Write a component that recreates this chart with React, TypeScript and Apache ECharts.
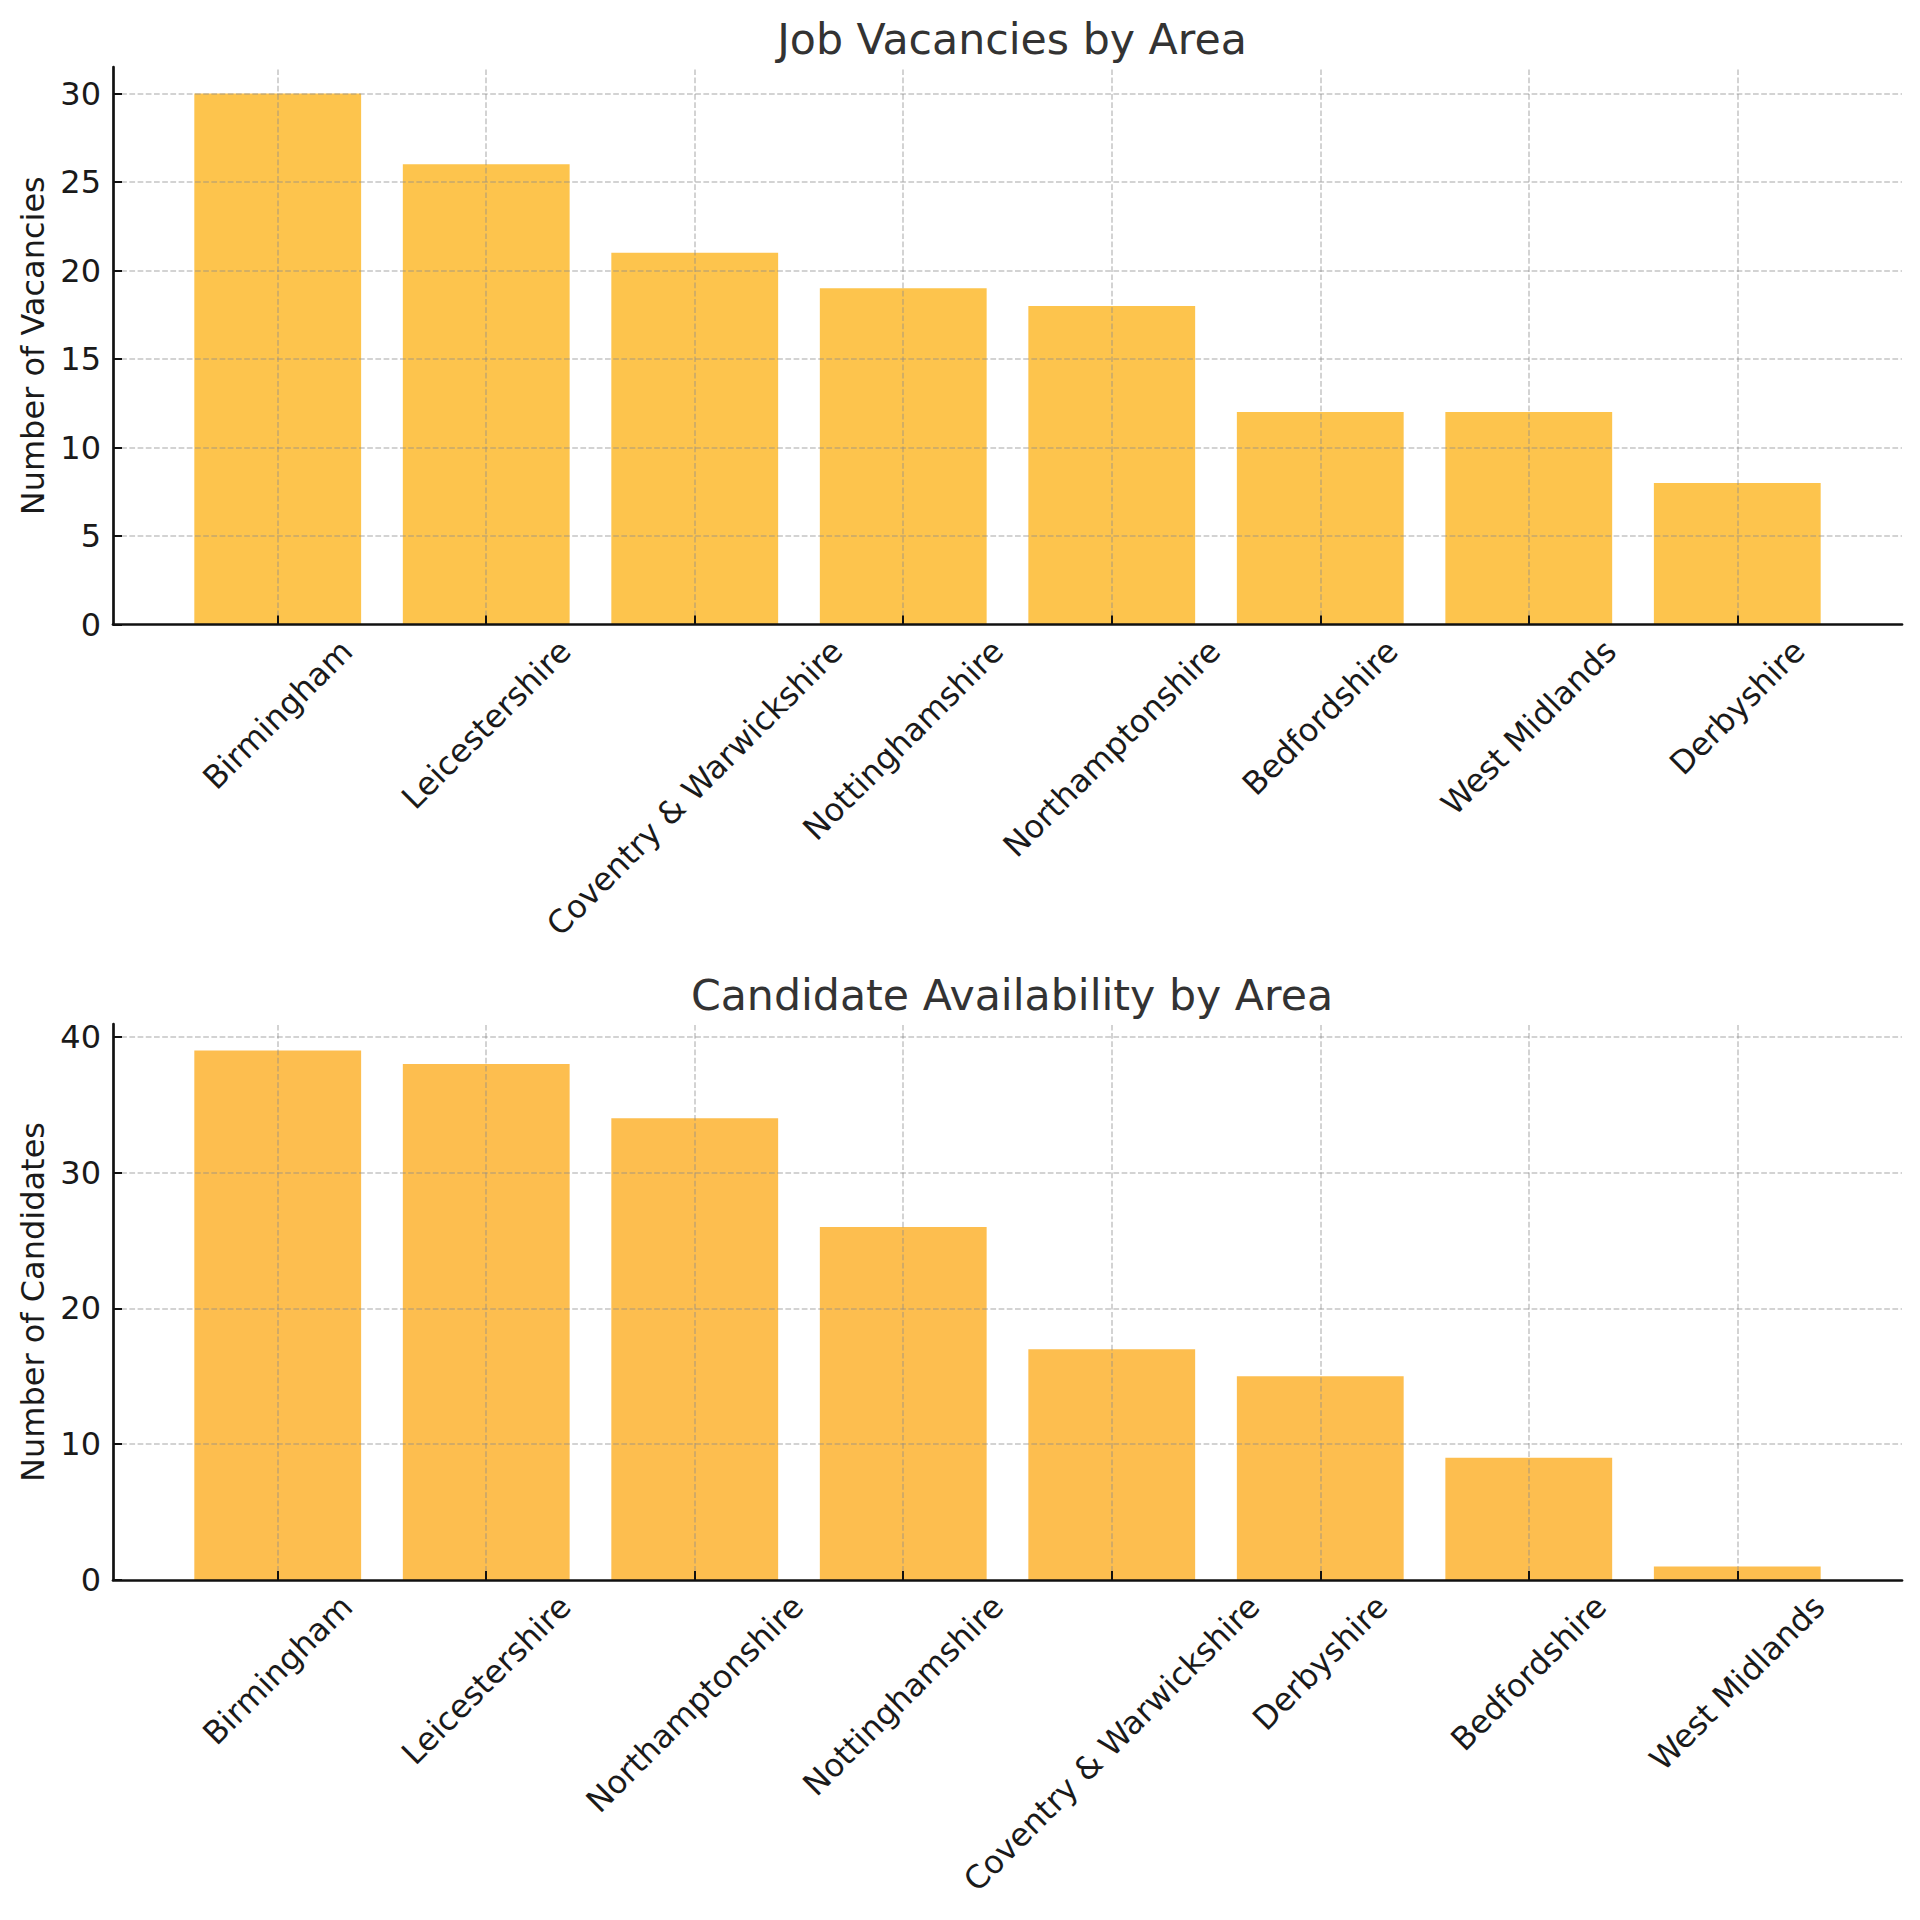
import React, { useEffect, useRef } from "react";
import * as echarts from "echarts";

const topTitle = "Job Vacancies by Area";
const bottomTitle = "Candidate Availability by Area";
const topYName = "Number of Vacancies";
const bottomYName = "Number of Candidates";

const topCategories = [
  "Birmingham",
  "Leicestershire",
  "Coventry & Warwickshire",
  "Nottinghamshire",
  "Northamptonshire",
  "Bedfordshire",
  "West Midlands",
  "Derbyshire",
];
const topValues = [30, 26, 21, 19, 18, 12, 12, 8];

const bottomCategories = [
  "Birmingham",
  "Leicestershire",
  "Northamptonshire",
  "Nottinghamshire",
  "Coventry & Warwickshire",
  "Derbyshire",
  "Bedfordshire",
  "West Midlands",
];
const bottomValues = [39, 38, 34, 26, 17, 15, 9, 1];

const topYTicks = [0, 5, 10, 15, 20, 25, 30];
const bottomYTicks = [0, 10, 20, 30, 40];

const FONT = '"DejaVu Sans", "Noto Sans", sans-serif';
const TICK_FS = 32;
const LINE_H = 37;

// plot geometry (px)
const PLOT_LEFT = 113;
const PLOT_WIDTH = 1789;
const X_MIN = -0.79;
const X_MAX = 7.79;
const UNIT = PLOT_WIDTH / (X_MAX - X_MIN);

function measure(s: string): number {
  const c = document.createElement("canvas");
  const ctx = c.getContext("2d");
  if (!ctx) return s.length * TICK_FS * 0.6;
  ctx.font = `${TICK_FS}px "DejaVu Sans"`;
  return ctx.measureText(s).width;
}

function buildPanel(
  idx: number,
  labelIdx: number,
  cats: string[],
  vals: number[],
  yTicks: number[],
  yMax: number,
  yName: string,
  color: string,
  prefix: string
) {
  const idxs = cats.map((_, i) => i);
  const rich: Record<string, any> = {};
  cats.forEach((c, i) => {
    const P = (measure(c) + LINE_H) / 2;
    rich[`${prefix}${i}`] = {
      fontSize: TICK_FS,
      fontFamily: FONT,
      color: "#1a1a1a",
      lineHeight: LINE_H,
      padding: [P, P, 0, 0],
    };
  });
  const xAxis = {
    type: "value",
    gridIndex: idx,
    min: X_MIN,
    max: X_MAX,
    z: 10,
    splitLine: { show: false },
    axisLine: { show: true, onZero: false, lineStyle: { color: "#111", width: 2.7 } },
    axisTick: {
      show: true,
      inside: true,
      length: 9,
      customValues: idxs,
      lineStyle: { color: "#111", width: 2 },
    },
    axisLabel: { show: false },
  };
  const labelAxis = {
    type: "category",
    gridIndex: labelIdx,
    data: cats,
    boundaryGap: true,
    axisLine: { show: false },
    axisTick: { show: false },
    splitLine: { show: false },
    axisLabel: {
      show: true,
      interval: 0,
      rotate: 45,
      align: "center",
      verticalAlign: "middle",
      margin: 8,
      fontSize: TICK_FS,
      fontFamily: FONT,
      color: "#1a1a1a",
      formatter: (v: string, i: number) => `{${prefix}${i}|${v}}`,
      rich,
    },
  };
  const yAxis = {
    type: "value",
    gridIndex: idx,
    min: 0,
    max: yMax,
    interval: yTicks[1] - yTicks[0],
    z: 10,
    name: yName,
    nameLocation: "middle",
    nameRotate: 90,
    nameGap: 62,
    nameTextStyle: { fontSize: TICK_FS, fontFamily: FONT, color: "#1a1a1a" },
    splitLine: { show: false },
    axisLine: { show: true, onZero: false, lineStyle: { color: "#111", width: 2.7 } },
    axisTick: {
      show: true,
      inside: true,
      length: 9,
      customValues: yTicks,
      lineStyle: { color: "#111", width: 2 },
    },
    axisLabel: {
      show: true,
      customValues: yTicks,
      showMinLabel: true,
      margin: 12,
      fontSize: TICK_FS,
      fontFamily: FONT,
      color: "#1a1a1a",
    },
  };
  const dummyY = {
    type: "value",
    gridIndex: labelIdx,
    min: 0,
    max: 1,
    show: false,
  };
  const gridLines = [
    ...yTicks.filter((v) => v > 0).map((v) => ({ yAxis: v })),
    ...idxs.map((i) => ({ xAxis: i })),
  ];
  const series = {
    type: "bar",
    xAxisIndex: idx,
    yAxisIndex: idx,
    barWidth: 0.8 * UNIT,
    itemStyle: { color },
    data: vals.map((v, i) => [i, v]),
    markLine: {
      silent: true,
      symbol: "none",
      z: 5,
      animation: false,
      label: { show: false },
      lineStyle: { color: "rgba(140,140,140,0.5)", type: [5.7, 2.5], width: 1.5 },
      data: gridLines,
    },
  };
  return { xAxis, labelAxis, yAxis, dummyY, series };
}

export default function App() {
  const ref = useRef<HTMLDivElement>(null);
  useEffect(() => {
    document.body.style.margin = "0";
    if (!ref.current) return;
    const chart = echarts.init(ref.current, null, { renderer: "svg" });
    const top = buildPanel(0, 2, topCategories, topValues, topYTicks, 31.5, topYName, "#FDC44D", "t");
    const bot = buildPanel(1, 3, bottomCategories, bottomValues, bottomYTicks, 40.95, bottomYName, "#FDBE4F", "b");
    const bandLeft = PLOT_LEFT + (0 - X_MIN) * UNIT - UNIT / 2;
    const bandWidth = UNIT * topCategories.length;
    const titleStyle = { fontSize: 42.7, fontWeight: "normal", color: "#333", fontFamily: FONT };
    chart.setOption({
      animation: false,
      backgroundColor: "#ffffff",
      textStyle: { fontFamily: FONT },
      title: [
        { text: topTitle, left: 1007, top: 12, textAlign: "center", textStyle: titleStyle },
        { text: bottomTitle, left: 1007, top: 968, textAlign: "center", textStyle: titleStyle },
      ],
      grid: [
        { left: PLOT_LEFT, top: 67, width: PLOT_WIDTH, height: 557.5, containLabel: false, outerBoundsMode: "none" },
        { left: PLOT_LEFT, top: 1024, width: PLOT_WIDTH, height: 556, containLabel: false, outerBoundsMode: "none" },
        { left: bandLeft, top: 67, width: bandWidth, height: 557.5, containLabel: false, outerBoundsMode: "none" },
        { left: bandLeft, top: 1024, width: bandWidth, height: 556, containLabel: false, outerBoundsMode: "none" },
      ],
      xAxis: [top.xAxis, bot.xAxis, top.labelAxis, bot.labelAxis],
      yAxis: [top.yAxis, bot.yAxis, top.dummyY, bot.dummyY],
      series: [top.series, bot.series],
    });
    return () => chart.dispose();
  }, []);
  return <div ref={ref} style={{ width: 1920, height: 1920 }} />;
}
